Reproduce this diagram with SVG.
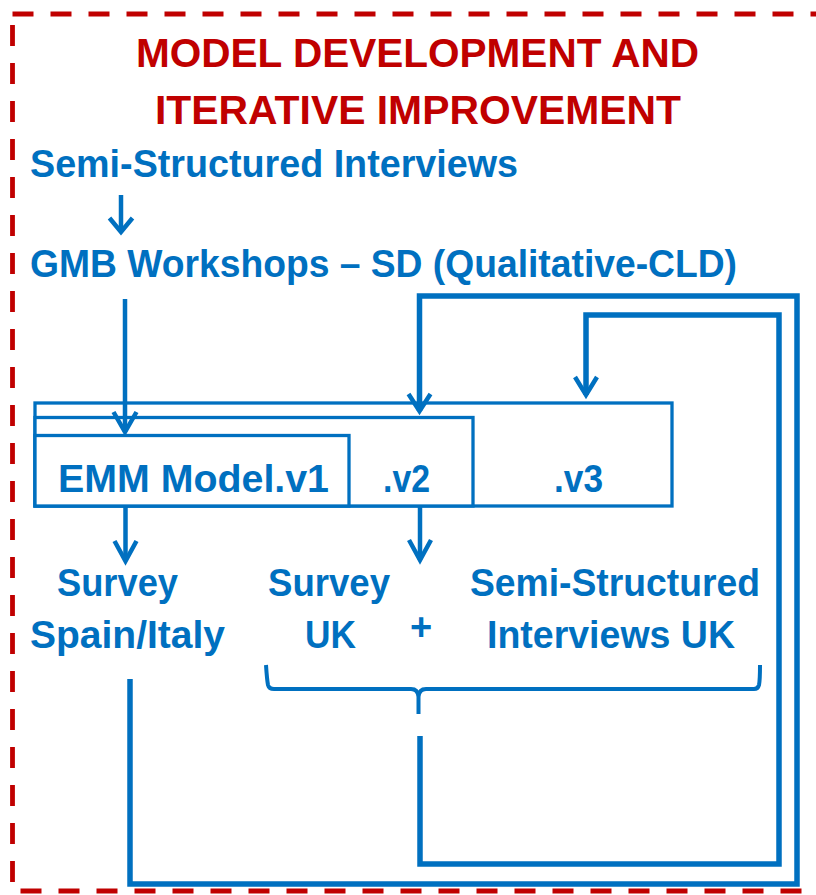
<svg xmlns="http://www.w3.org/2000/svg" width="816" height="895" viewBox="0 0 816 895">
<style>
.t{font-family:"Liberation Sans",Arial,sans-serif;font-weight:bold;fill:#0070C0;font-size:38px}
.r{font-family:"Liberation Sans",Arial,sans-serif;font-weight:bold;fill:#C00000;font-size:40.5px}
.box{fill:#fff;stroke:#0070C0;stroke-width:3.3}
.loop{fill:none;stroke:#0070C0;stroke-width:5.5;stroke-linejoin:miter}
.arr{fill:none;stroke:#0070C0;stroke-width:4.5}
.head{fill:none;stroke:#0070C0;stroke-width:4.5;stroke-linejoin:miter;stroke-linecap:butt}
</style>
<rect width="816" height="895" fill="#fff"/>
<rect id="frame" x="12.5" y="14" width="830" height="877" fill="none" stroke="#C00000" stroke-width="4.8" stroke-dasharray="21 17"/>
<g id="title">
<text class="r" x="136" y="67" textLength="563" lengthAdjust="spacingAndGlyphs">MODEL DEVELOPMENT AND</text>
<text class="r" x="155" y="124" textLength="526" lengthAdjust="spacingAndGlyphs">ITERATIVE IMPROVEMENT</text>
</g>
<g id="interviews"><text class="t" x="30" y="177" textLength="488" lengthAdjust="spacingAndGlyphs">Semi-Structured Interviews</text></g>
<g id="gmb"><text class="t" x="30" y="277" textLength="707" lengthAdjust="spacingAndGlyphs">GMB Workshops – SD (Qualitative-CLD)</text></g>
<g id="model-v3"><rect class="box" x="35" y="403" width="637" height="103"/><text class="t" x="554" y="492" textLength="49" lengthAdjust="spacingAndGlyphs">.v3</text></g>
<g id="model-v2"><rect class="box" x="35" y="417.5" width="438" height="88.5"/><text class="t" x="383" y="492" textLength="47" lengthAdjust="spacingAndGlyphs">.v2</text></g>
<g id="model-v1"><rect class="box" x="35" y="435.5" width="314" height="70.5"/><text class="t" x="58" y="492" textLength="271" lengthAdjust="spacingAndGlyphs">EMM Model.v1</text></g>
<g id="survey-spain-italy">
<text class="t" x="57" y="596" textLength="121" lengthAdjust="spacingAndGlyphs">Survey</text>
<text class="t" x="30" y="648" textLength="195" lengthAdjust="spacingAndGlyphs">Spain/Italy</text>
</g>
<g id="survey-uk">
<text class="t" x="268" y="596" textLength="122" lengthAdjust="spacingAndGlyphs">Survey</text>
<text class="t" x="305" y="648" textLength="51" lengthAdjust="spacingAndGlyphs">UK</text>
</g>
<g id="plus"><text class="t" x="421" y="640" text-anchor="middle">+</text></g>
<g id="interviews-uk">
<text class="t" x="470" y="596" textLength="290" lengthAdjust="spacingAndGlyphs">Semi-Structured</text>
<text class="t" x="487" y="648" textLength="248" lengthAdjust="spacingAndGlyphs">Interviews UK</text>
</g>
<g id="brace"><path d="M266 665 Q267 680 268 685 Q269 689 274 689 H411 Q418 689 418.5 697 V714 M418.5 697 Q419 689 426 689 H754 Q758 689 759 685 Q760 680 760 665" fill="none" stroke="#0070C0" stroke-width="4"/></g>
<g id="connectors">
<path class="arr" d="M121 195 V232" stroke-width="3.2"/>
<path class="head" d="M109.5 218 L121 232 L132.5 218" stroke-width="3.2"/>
<path class="arr" d="M125 299 V432"/>
<path class="head" d="M113.5 412 L125 432 L136.5 412"/>
<path class="loop" d="M130 679 V884 H797 V296 H419.5 V411"/>
<path class="head" d="M408.5 394 L419.5 411 L430.5 394"/>
<path class="loop" d="M420 736 V864 H779 V315 H586 V395"/>
<path class="head" d="M575 377 L586 395 L597 377"/>
<path class="arr" d="M125.5 506 V561"/>
<path class="head" d="M114.5 541 L125.5 561 L136.5 541"/>
<path class="arr" d="M420 506 V560"/>
<path class="head" d="M409 540 L420 560 L431 540"/>
</g>
</svg>
